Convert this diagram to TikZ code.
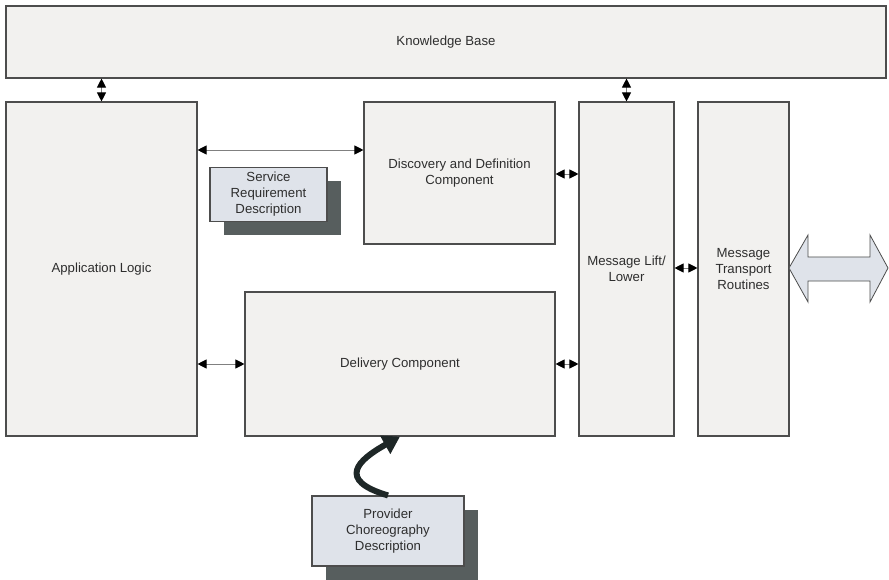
\documentclass[tikz,border=0pt]{standalone}
\usepackage{fontspec}
\setmainfont{Liberation Sans}
\usepackage{tikz}
\usetikzlibrary{arrows.meta,shadows}
\definecolor{boxfill}{HTML}{F2F1EF}
\definecolor{descfill}{HTML}{DFE3EA}
\definecolor{shadowgray}{HTML}{575E5E}
\definecolor{edgegray}{HTML}{4D4D4D}
\definecolor{textgray}{HTML}{2E2E2E}
\definecolor{curvedark}{HTML}{1E2727}
\begin{document}
\begin{tikzpicture}[x=1pt,y=-1pt,
  comp/.style={rectangle,draw=edgegray,line width=1.1pt,fill=boxfill,inner sep=0pt,
    align=center,text=textgray,font=\fontsize{13.2}{16}\selectfont,minimum width=#1},
  desc/.style={comp=#1,fill=descfill,
    drop shadow={shadow xshift=14pt,shadow yshift=-14pt,fill=shadowgray,opacity=1}},
  link/.style={draw=gray,line width=0.9pt,
    {Triangle[length=9pt,width=9pt,color=black]}-{Triangle[length=9pt,width=9pt,color=black]}}]
\useasboundingbox (0,0) rectangle (889,580);

\node [comp=880pt,minimum height=72pt] (kb) at (446,42) {Knowledge Base};
\node [comp=191pt,minimum height=334pt] (app) at (101.5,269) {Application Logic};
\node [comp=191pt,minimum height=142pt] (disc) at (459.5,173) {Discovery and Definition\\Component};
\node [comp=310pt,minimum height=144pt] (deliv) at (400,364) {Delivery Component};
\node [comp=95pt,minimum height=334pt] (lift) at (626.5,269) {Message Lift/\\Lower};
\node [comp=91pt,minimum height=334pt] (trans) at (743.5,269) {Message\\Transport\\Routines};
\node [desc=117pt,minimum height=54pt] (srd) at (268.5,194.5) {Service\\Requirement\\Description};
\node [desc=152pt,minimum height=70pt] (pcd) at (388,531) {Provider\\Choreography\\Description};

\draw [link] (kb.south -| app) -- (app.north);
\draw [link] (kb.south -| lift) -- (lift.north);
\draw [link] (app.east |- 0,150) -- (disc.west |- 0,150);
\draw [link] (disc.east |- 0,174) -- (lift.west |- 0,174);
\draw [link] (app.east |- deliv) -- (deliv.west);
\draw [link] (deliv.east) -- (lift.west |- deliv);
\draw [link] (lift.east |- 0,268) -- (trans.west |- 0,268);

% provider choreography feeds the delivery component
\draw [line width=6pt,draw=curvedark,-{Triangle[length=17pt,width=20pt]}]
  (pcd.north) .. controls (336,480) and (358,460) .. (deliv.south);

% outgoing message channel
\draw [edgegray,fill=descfill,line width=0.8pt]
  (789,268) -- (808,235) -- (808,257) -- (870,257) -- (870,235) -- (888,268)
  -- (870,302) -- (870,281) -- (808,281) -- (808,302) -- cycle;
\end{tikzpicture}
\end{document}
